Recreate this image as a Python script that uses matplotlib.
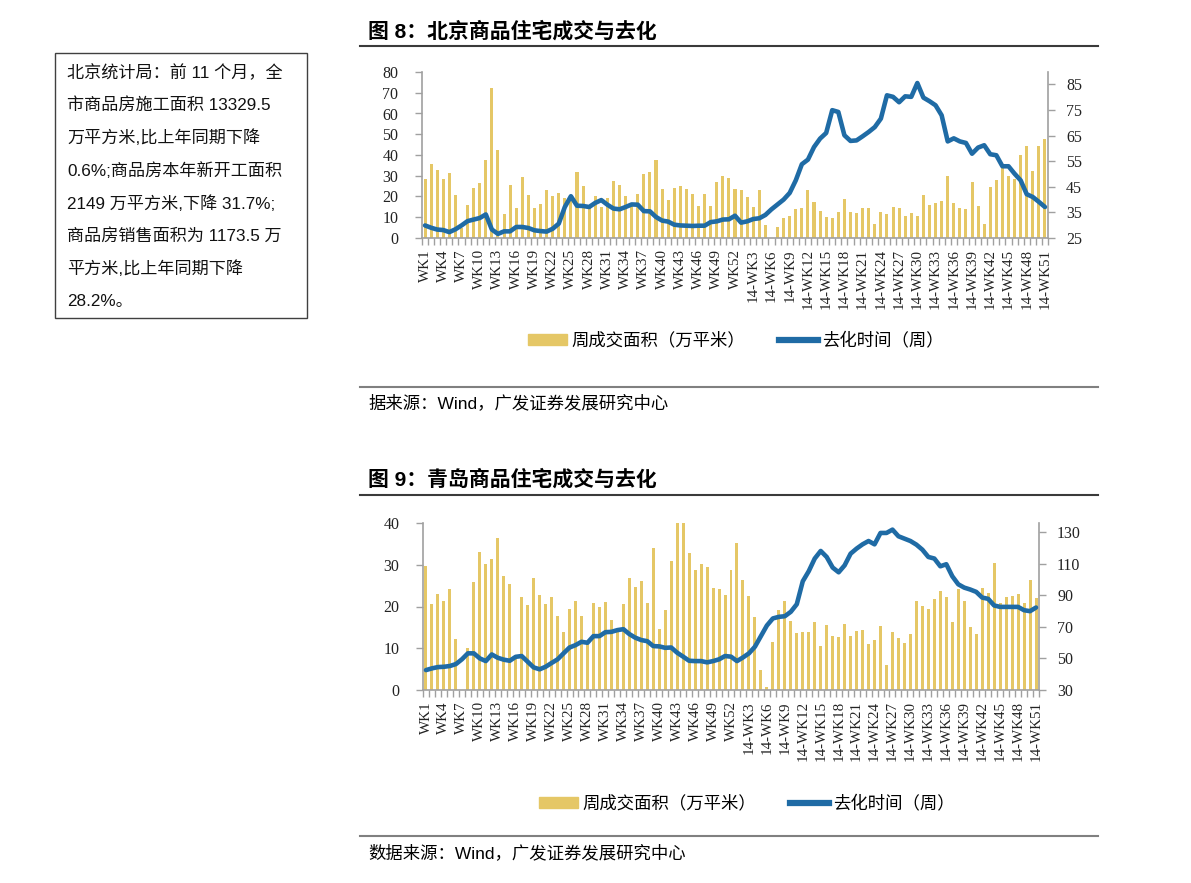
import numpy as np
import matplotlib.pyplot as plt
from matplotlib.lines import Line2D
from matplotlib.patches import Patch, Rectangle

plt.rcParams['font.family'] = ['Liberation Sans', 'Noto Sans CJK SC']

W, H = 1191, 883

def fx(px):
    return px / W

def fy(py):
    return 1 - py / H

# categories: 2013 weeks then 2014 weeks
weeks = ['WK%d' % i for i in range(1, 53)] + ['14-WK%d' % i for i in range(1, 52)]

# Beijing: weekly transaction area (10k m2) and months-of-inventory in weeks
bj_area = [28.3, 35.8, 32.9, 28.4, 31.3, 20.9, 5.0, 15.7, 23.9, 26.7,
           37.6, 72.3, 42.2, 11.6, 25.7, 14.3, 29.2, 20.6, 14.3, 16.5,
           23.3, 20.4, 21.7, 19.3, 20.0, 31.6, 25.1, 15.0, 20.0, 14.9,
           19.3, 27.3, 25.5, 20.0, 16.5, 21.4, 30.7, 31.8, 37.8, 23.6,
           18.3, 24.1, 25.1, 23.6, 21.0, 15.4, 21.4, 15.6, 26.8, 29.7,
           28.9, 23.6, 23.1, 19.6, 14.8, 23.1, 6.1, 0.0, 5.3, 9.5,
           10.6, 13.8, 14.6, 23.0, 17.2, 12.9, 10.1, 9.5, 12.7, 18.8,
           12.5, 12.0, 14.3, 14.5, 6.9, 12.4, 11.4, 14.8, 14.3, 10.8,
           11.9, 10.6, 20.9, 15.9, 16.9, 17.8, 29.7, 16.9, 14.6, 14.0,
           26.8, 15.6, 6.7, 24.6, 27.8, 34.2, 30.0, 28.6, 39.8, 44.5,
           32.3, 44.5, 47.5]
bj_weeks = [29.9, 29.0, 28.3, 28.1, 27.3, 28.4, 29.9, 31.6, 32.2, 32.8,
            34.2, 28.3, 26.6, 27.6, 27.6, 29.3, 29.3, 28.9, 28.0, 27.7,
            27.5, 28.6, 30.6, 37.1, 41.3, 37.6, 37.5, 37.1, 38.7, 39.8,
            38.0, 36.5, 36.2, 37.1, 38.1, 38.0, 35.5, 35.4, 33.2, 31.8,
            31.4, 30.2, 29.9, 29.8, 29.7, 29.8, 29.8, 31.2, 31.5, 32.2,
            32.3, 33.7, 31.0, 31.5, 32.4, 32.7, 34.0, 36.2, 38.1, 40.0,
            42.6, 47.5, 53.8, 55.6, 60.5, 63.8, 66.0, 74.9, 74.2, 65.1,
            62.9, 63.1, 64.7, 66.4, 68.3, 71.6, 80.7, 80.1, 78.0, 80.3,
            80.1, 85.5, 79.8, 78.4, 76.8, 72.9, 62.7, 63.9, 62.7, 62.1,
            57.9, 60.3, 61.2, 57.7, 57.3, 53.0, 53.0, 50.1, 47.5, 42.1,
            41.0, 39.1, 37.1]

# Qingdao
qd_area = [29.7, 20.6, 23.1, 21.4, 24.3, 12.2, 0.0, 10.0, 25.8, 33.1,
           30.1, 31.3, 36.3, 27.2, 25.3, 8.0, 22.2, 20.4, 26.8, 22.7,
           20.5, 22.2, 17.7, 14.0, 19.4, 21.3, 17.7, 11.0, 20.9, 19.9,
           21.1, 16.7, 14.6, 20.6, 26.9, 24.7, 26.0, 20.8, 34.1, 14.5,
           19.2, 31.0, 40.0, 40.0, 32.9, 28.8, 30.2, 29.4, 24.4, 24.1,
           22.7, 28.7, 35.2, 26.4, 22.5, 17.5, 4.9, 0.6, 11.5, 19.1,
           21.3, 16.5, 13.6, 13.9, 13.9, 16.4, 10.6, 15.6, 12.9, 12.7,
           15.9, 12.9, 14.2, 14.4, 11.0, 12.0, 15.3, 6.1, 14.0, 12.4,
           11.2, 13.5, 21.2, 20.1, 19.3, 21.9, 23.8, 22.2, 16.2, 24.1,
           21.4, 15.0, 13.4, 24.4, 23.2, 30.4, 20.8, 22.2, 22.5, 23.1,
           20.9, 26.4, 22.0]
qd_weeks = [42.6, 43.7, 44.5, 44.7, 45.2, 46.4, 49.4, 53.2, 53.2, 50.0,
            48.3, 52.5, 50.4, 49.2, 48.5, 51.0, 51.5, 47.9, 44.3, 43.1,
            44.7, 47.1, 49.4, 53.2, 56.9, 58.4, 60.5, 59.9, 64.1, 64.1,
            66.6, 66.8, 67.9, 68.5, 65.4, 63.1, 61.6, 60.9, 57.8, 57.6,
            56.7, 56.9, 53.6, 51.1, 48.5, 48.3, 48.3, 47.5, 48.3, 49.4,
            51.5, 51.1, 48.3, 50.6, 53.2, 57.4, 64.1, 70.8, 75.3, 76.3,
            76.7, 79.5, 84.3, 98.8, 105.2, 113.2, 118.0, 114.2, 107.5, 104.5,
            108.9, 116.3, 119.5, 122.2, 124.3, 122.2, 129.4, 129.4, 131.5, 127.3,
            125.8, 124.3, 122.0, 118.8, 114.2, 113.2, 108.3, 109.6, 102.0, 96.9,
            94.8, 93.6, 92.1, 88.5, 87.7, 83.5, 82.6, 82.6, 82.6, 82.6,
            80.5, 79.9, 82.2]

box_lines = ['北京统计局：前 11 个月，全',
             '市商品房施工面积 13329.5',
             '万平方米,比上年同期下降',
             '0.6%;商品房本年新开工面积',
             '2149 万平方米,下降 31.7%;',
             '商品房销售面积为 1173.5 万',
             '平方米,比上年同期下降',
             '28.2%。']

BAR_C = '#E5C766'
LINE_C = '#1F6BA5'
SPINE_C = '#A0A0A0'
CJK = ['Liberation Sans', 'Noto Sans CJK SC']
SERIF = 'Liberation Serif'

fig = plt.figure(figsize=(W / 100, H / 100), dpi=100)


def panel(left, right, top, bottom, area, wk, lmax, lstep, rlim, rticks, lpad, rpad):
    ax = fig.add_axes([fx(left), fy(bottom), fx(right) - fx(left), fy(top) - fy(bottom)])
    x = np.arange(len(weeks))
    ax.bar(x, area, width=0.5, color=BAR_C, zorder=2)
    ax.set_xlim(-0.5, len(weeks) - 0.5)
    ax.set_ylim(0, lmax)
    ax.set_yticks(np.arange(0, lmax + 1, lstep))
    ax.set_xticks(x[::3])
    ax.set_xticklabels(weeks[::3], rotation=90)
    ax.set_xticks(np.arange(len(weeks) + 1) - 0.5, minor=True)
    ax.tick_params(axis='x', which='major', length=0, pad=8, labelsize=10.8,
                   labelfontfamily=SERIF, colors='#222222')
    ax.tick_params(axis='x', which='minor', length=5, width=1, color=SPINE_C)
    ax.tick_params(axis='y', length=5, width=1, color=SPINE_C, pad=lpad,
                   labelsize=11.5, labelfontfamily=SERIF, labelcolor='#222222')
    for s in ['top', 'right']:
        ax.spines[s].set_visible(False)
    for s in ['left', 'bottom']:
        ax.spines[s].set_color(SPINE_C)
        ax.spines[s].set_linewidth(1.2)

    ax2 = ax.twinx()
    ax2.plot(x, wk, color=LINE_C, lw=3.3, solid_joinstyle='round',
             solid_capstyle='round', zorder=3)
    ax2.set_ylim(*rlim)
    ax2.set_yticks(rticks)
    ax2.tick_params(axis='y', length=5, width=1, color=SPINE_C, pad=rpad,
                    labelsize=11.5, labelfontfamily=SERIF, labelcolor='#222222')
    for s in ['top', 'left', 'bottom']:
        ax2.spines[s].set_visible(False)
    ax2.spines['right'].set_color(SPINE_C)
    ax2.spines['right'].set_linewidth(1.2)
    return ax, ax2


def legend_at(cx, cy):
    handles = [Patch(color=BAR_C), Line2D([], [], color=LINE_C, lw=4.5)]
    fig.legend(handles, ['周成交面积（万平米）', '去化时间（周）'],
               loc='center', bbox_to_anchor=(fx(cx), fy(cy)), ncol=2,
               frameon=False, prop={'family': CJK, 'size': 12.5},
               handlelength=2.2, handleheight=0.6, handletextpad=0.25,
               columnspacing=2.0)


def rule(y, color, lw):
    fig.add_artist(Line2D([fx(360), fx(1098)], [fy(y), fy(y)],
                          transform=fig.transFigure, color=color, lw=lw))


# chart 8: Beijing
fig.text(fx(368), fy(31), '图 8：北京商品住宅成交与去化', fontsize=15,
         fontweight='bold', family=CJK, va='center', ha='left')
rule(46, '#3a3a3a', 1.5)
panel(422, 1048, 72, 238, bj_area, bj_weeks, 80, 10, (25, 89.8),
      np.arange(25, 86, 10), 12, 8)
legend_at(736, 340)
rule(387, '#808080', 1.5)
fig.text(fx(368), fy(403), '据来源：Wind，广发证券发展研究中心', fontsize=12.5,
         family=CJK, va='center', ha='left')

# chart 9: Qingdao
fig.text(fx(368), fy(479), '图 9：青岛商品住宅成交与去化', fontsize=15,
         fontweight='bold', family=CJK, va='center', ha='left')
rule(495, '#3a3a3a', 1.5)
panel(423, 1039, 523, 690, qd_area, qd_weeks, 40, 10, (30, 135.7),
      np.arange(30, 131, 20), 12, 8)
legend_at(747, 803)
rule(836, '#808080', 1.5)
fig.text(fx(368), fy(853), '数据来源：Wind，广发证券发展研究中心', fontsize=12.5,
         family=CJK, va='center', ha='left')

# commentary box
fig.add_artist(Rectangle((fx(55), fy(318)), fx(307) - fx(55), fy(53) - fy(318),
                         transform=fig.transFigure, fill=False,
                         edgecolor='#404040', lw=1))
for k, line in enumerate(box_lines):
    fig.text(fx(67), fy(72.7 + 32.7 * k), line, fontsize=12.3, family=CJK,
             va='center', ha='left', color='#111111')

fig.savefig('out.png', dpi=100)
